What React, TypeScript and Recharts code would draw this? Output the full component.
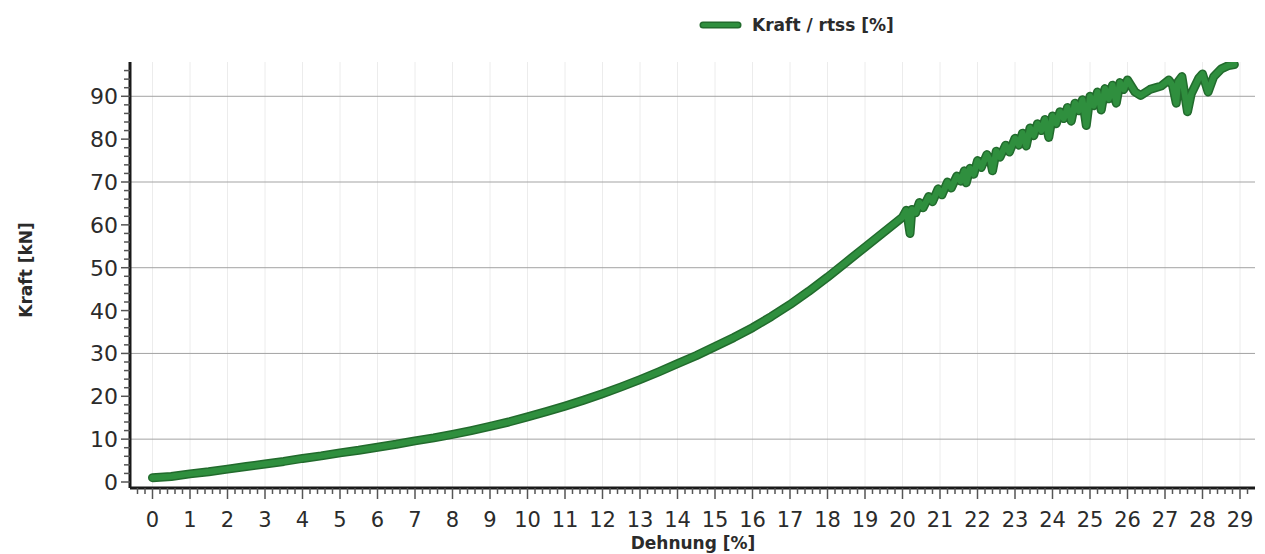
import React from 'react';
import { LineChart, Line, XAxis, YAxis, ReferenceLine } from 'recharts';

// Dehnung [%] — x values of the measured curve
const strain = [
  0, 0.5, 1, 1.5, 2, 2.5, 3, 3.5, 4, 4.5, 5, 5.5, 6, 6.5, 7, 7.5, 8, 8.5, 9, 9.5,
  10, 10.5, 11, 11.5, 12, 12.5, 13, 13.5, 14, 14.5, 15, 15.5, 16, 16.5, 17, 17.5, 18, 18.5, 19, 19.5,
  20, 20.1, 20.15, 20.2, 20.25, 20.35, 20.45, 20.55, 20.7, 20.8, 20.95, 21.05, 21.2, 21.3, 21.45, 21.55,
  21.65, 21.7, 21.8, 21.9, 22, 22.1, 22.25, 22.35, 22.4, 22.5, 22.6, 22.75, 22.85,
  23, 23.1, 23.2, 23.3, 23.4, 23.5, 23.6, 23.7, 23.8, 23.9, 24, 24.1, 24.2, 24.3, 24.4, 24.5, 24.6,
  24.7, 24.8, 24.9, 25, 25.1, 25.2, 25.3, 25.4, 25.5, 25.6, 25.7, 25.8, 25.9, 26,
  26.2, 26.35, 26.6, 26.9, 27.1, 27.2, 27.3, 27.35, 27.45, 27.6, 27.7, 27.9, 28, 28.15, 28.3, 28.5, 28.7, 28.85,
];

// Kraft [kN]
const force = [
  1.0, 1.3, 1.9, 2.4, 3.0, 3.6, 4.2, 4.8, 5.5, 6.1, 6.8, 7.4, 8.1, 8.8, 9.6, 10.3, 11.1, 12.0, 13.0, 14.0,
  15.2, 16.4, 17.7, 19.1, 20.6, 22.2, 23.9, 25.7, 27.6, 29.5, 31.6, 33.7, 36.0, 38.6, 41.4, 44.5, 47.8, 51.3, 54.8, 58.3,
  61.8, 63.4, 61.0, 58.0, 63.6, 62.8, 65.2, 64.0, 66.6, 65.4, 68.4, 67.0, 70.0, 68.6, 71.4, 70.2,
  72.6, 69.8, 73.2, 71.8, 75.0, 73.4, 76.4, 74.8, 72.6, 77.2, 75.8, 78.6, 77.0,
  80.2, 78.6, 81.4, 78.4, 82.6, 80.8, 83.6, 82.0, 84.6, 80.4, 85.4, 83.6, 86.4, 84.8, 87.4, 84.2, 88.4,
  86.6, 89.2, 83.2, 90.0, 87.8, 91.0, 86.8, 91.8, 89.4, 92.6, 88.4, 93.2, 91.6, 93.8,
  91.0, 90.2, 91.6, 92.4, 93.8, 92.6, 88.4, 93.4, 94.6, 86.4, 90.6, 94.2, 95.2, 91.0, 94.6, 96.4, 97.2, 97.4,
];

const xMajorTicks = [0, 1, 2, 3, 4, 5, 6, 7, 8, 9, 10, 11, 12, 13, 14, 15, 16, 17, 18, 19, 20, 21, 22, 23, 24, 25, 26, 27, 28, 29];
const yMajorTicks = [0, 10, 20, 30, 40, 50, 60, 70, 80, 90];
const yGridLines = [10, 30, 50, 70, 90];

const rows = strain.map((x, i) => ({ x, kraft: force[i] }));

// minor ticks: 5 per unit on x, every 2 kN on y
const xTicks: number[] = [];
for (let i = -2; i <= 146; i++) xTicks.push(Math.round(i * 20) / 100);
const yTicks: number[] = [];
for (let i = 0; i <= 48; i++) yTicks.push(i * 2);

const FONT = '"DejaVu Sans", sans-serif';
const TEXT = '#2b2b2b';
const GREEN = '#2f8f3e';
const GREEN_DARK = '#226b2d';

const isMajor = (v: number, list: number[]) => list.some((m) => Math.abs(m - v) < 1e-6);

const XTick = (props: any) => {
  const { x, y, payload } = props;
  const v = payload.value;
  const major = isMajor(v, xMajorTicks);
  return (
    <g>
      <line x1={x} y1={y} x2={x} y2={y + (major ? 11 : 6)} stroke="#555" strokeWidth={1.5} />
      {major && (
        <text x={x} y={y + 39} textAnchor="middle" fontFamily={FONT} fontSize={21} fill={TEXT}>
          {Math.round(v)}
        </text>
      )}
    </g>
  );
};

const YTick = (props: any) => {
  const { x, y, payload } = props;
  const v = payload.value;
  const major = isMajor(v, yMajorTicks);
  return (
    <g>
      <line x1={x - (major ? 9 : 6)} y1={y} x2={x} y2={y} stroke="#555" strokeWidth={1.5} />
      {major && (
        <text x={x - 12} y={y + 8} textAnchor="end" fontFamily={FONT} fontSize={22} fill={TEXT}>
          {v}
        </text>
      )}
    </g>
  );
};

export default function App() {
  return (
    <div style={{ position: 'absolute', left: 0, top: 0, width: 1265, height: 554, background: '#fff' }}>
      <LineChart width={1265} height={554} data={rows} margin={{ top: 62, right: 10, bottom: 0, left: 0 }}>
        <XAxis
          type="number"
          dataKey="x"
          domain={[-0.6, 29.4]}
          allowDataOverflow
          ticks={xTicks}
          interval={0}
          tickSize={0}
          tickMargin={0}
          tickLine={false}
          tick={<XTick />}
          axisLine={{ stroke: '#1a1a1a', strokeWidth: 3 }}
          height={66}
        />
        <YAxis
          type="number"
          domain={[-1.4, 98]}
          allowDataOverflow
          ticks={yTicks}
          interval={0}
          tickSize={0}
          tickMargin={0}
          tickLine={false}
          tick={<YTick />}
          axisLine={{ stroke: '#1a1a1a', strokeWidth: 3 }}
          width={130}
        />
        {xMajorTicks.map((v) => (
          <ReferenceLine key={'vx' + v} x={v} stroke="#ececec" strokeWidth={1} />
        ))}
        {yGridLines.map((v) => (
          <ReferenceLine key={'hy' + v} y={v} stroke="#a3a3a3" strokeWidth={1} />
        ))}
        <Line type="linear" dataKey="kraft" stroke={GREEN_DARK} strokeWidth={9} dot={false} strokeLinejoin="round" strokeLinecap="round" isAnimationActive={false} />
        <Line type="linear" dataKey="kraft" stroke={GREEN} strokeWidth={6} dot={false} strokeLinejoin="round" strokeLinecap="round" isAnimationActive={false} />
      </LineChart>
      <svg width={1265} height={554} style={{ position: 'absolute', left: 0, top: 0, pointerEvents: 'none' }}>
        <line x1={703} y1={25} x2={738} y2={25} stroke={GREEN_DARK} strokeWidth={7} strokeLinecap="round" />
        <line x1={703} y1={25} x2={738} y2={25} stroke={GREEN} strokeWidth={4} strokeLinecap="round" />
        <text x={752} y={31} fontFamily={FONT} fontWeight="bold" fontSize={17} fill={TEXT}>
          Kraft / rtss [%]
        </text>
        <text x={693} y={549} textAnchor="middle" fontFamily={FONT} fontWeight="bold" fontSize={17} fill={TEXT}>
          Dehnung [%]
        </text>
        <text
          x={32}
          y={270}
          textAnchor="middle"
          transform="rotate(-90 32 270)"
          fontFamily={FONT}
          fontWeight="bold"
          fontSize={17}
          fill={TEXT}
        >
          Kraft [kN]
        </text>
      </svg>
    </div>
  );
}
